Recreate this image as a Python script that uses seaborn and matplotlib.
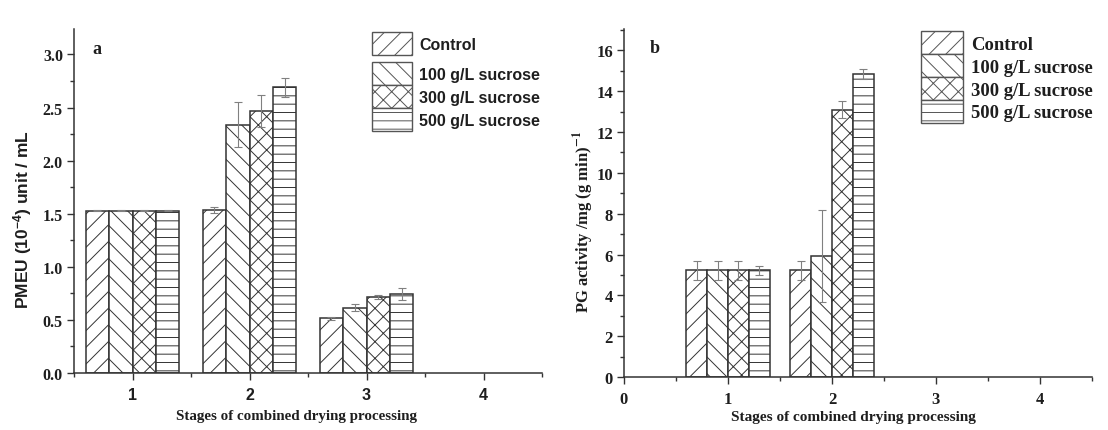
import numpy as np
import pandas as pd
import matplotlib
matplotlib.use("Agg")
import matplotlib.pyplot as plt
import seaborn as sns
from matplotlib.patches import Patch
from matplotlib.ticker import MultipleLocator, FixedLocator
from matplotlib.font_manager import FontProperties

# ---------------- data ----------------
treatments = ["Control", "100 g/L sucrose", "300 g/L sucrose", "500 g/L sucrose"]

stages_a = [1, 2, 3]
pmeu_control = [1.53, 1.535, 0.515]
pmeu_100 = [1.53, 2.34, 0.615]
pmeu_300 = [1.53, 2.47, 0.715]
pmeu_500 = [1.53, 2.69, 0.745]
pmeu_err_control = [0.004, 0.027, 0.015]
pmeu_err_100 = [0.004, 0.21, 0.035]
pmeu_err_300 = [0.004, 0.15, 0.022]
pmeu_err_500 = [0.004, 0.093, 0.06]

stages_b = [1, 2]
pg_control = [5.22, 5.22]
pg_100 = [5.22, 5.93]
pg_300 = [5.22, 13.1]
pg_500 = [5.22, 14.85]
pg_err_control = [0.47, 0.47]
pg_err_100 = [0.47, 2.27]
pg_err_300 = [0.47, 0.40]
pg_err_500 = [0.24, 0.24]

xticks_a = [1, 2, 3, 4]
xticks_b = [0, 1, 2, 3, 4]

# ---------------- style ----------------
sns.set_style("ticks")
plt.rcParams["font.family"] = ["Liberation Serif", "DejaVu Serif"]
plt.rcParams["hatch.linewidth"] = 0.7
plt.rcParams["mathtext.fontset"] = "custom"
plt.rcParams["mathtext.bf"] = "Liberation Sans:bold"
plt.rcParams["mathtext.rm"] = "Liberation Sans:bold"
plt.rcParams["mathtext.it"] = "Liberation Sans:bold"

EDGE = "#333333"
TXT = "#1e1e1e"
hatches = ["//", "\\\\", "xx", "--"]

sans_b = lambda s: FontProperties(family="Liberation Sans", weight="bold", size=s)
serif_b = lambda s: FontProperties(family="Liberation Serif", weight="bold", size=s)

W, H = 1108, 431
fig = plt.figure(figsize=(W / 100, H / 100), dpi=100)
ax1 = fig.add_axes([74 / W, 57 / H, 468 / W, 344 / H])
ax2 = fig.add_axes([624 / W, 53 / H, 468 / W, 348 / H])


def build(stages, vals, errs):
    rows = []
    for t, v, e in zip(treatments, vals, errs):
        for s, vv, ee in zip(stages, v, e):
            rows.append(dict(stage=s, treatment=t, value=vv, err=ee))
    return pd.DataFrame(rows)


def draw(ax, df):
    sns.barplot(data=df, x="stage", y="value", hue="treatment", hue_order=treatments,
                native_scale=True, errorbar=None, palette=["white"] * 4, saturation=1,
                edgecolor=EDGE, linewidth=1.1, legend=False, ax=ax, zorder=2)
    errmap = {(r.treatment, r.stage): r.err for r in df.itertuples()}
    for t, h, cont in zip(treatments, hatches, ax.containers):
        for bar in cont:
            bar.set_hatch(h)
            cx = bar.get_x() + bar.get_width() / 2
            s = int(round(cx))
            ax.errorbar(cx, bar.get_height(), yerr=errmap[(t, s)], fmt="none",
                        ecolor="#808080", elinewidth=0.8, capsize=3, capthick=0.8, zorder=4)


def style_axes(ax):
    for side in ["top", "right"]:
        ax.spines[side].set_visible(False)
    for side in ["left", "bottom"]:
        ax.spines[side].set_linewidth(1.1)
        ax.spines[side].set_color(EDGE)
        ax.spines[side].set_zorder(5)
    ax.tick_params(which="both", direction="out", color=EDGE, width=1.0, labelcolor=TXT)
    ax.tick_params(which="major", length=5)
    ax.tick_params(which="minor", length=2.8)
    ax.tick_params(axis="x", which="major", pad=5)
    ax.tick_params(axis="y", which="major", pad=3)
    ax.set_facecolor("white")


df_a = build(stages_a, [pmeu_control, pmeu_100, pmeu_300, pmeu_500],
             [pmeu_err_control, pmeu_err_100, pmeu_err_300, pmeu_err_500])
df_b = build(stages_b, [pg_control, pg_100, pg_300, pg_500],
             [pg_err_control, pg_err_100, pg_err_300, pg_err_500])

draw(ax1, df_a)
draw(ax2, df_b)

# ---- panel a ----
style_axes(ax1)
ax1.set_xlim(0.5, 4.5)
ax1.xaxis.set_major_locator(FixedLocator(xticks_a))
ax1.xaxis.set_minor_locator(MultipleLocator(0.5))
ax1.yaxis.set_major_locator(MultipleLocator(0.5))
ax1.yaxis.set_minor_locator(MultipleLocator(0.25))
ax1.set_ylim(0, 3.24)
ax1.set_xticklabels([str(v) for v in xticks_a])
yt = [v for v in ax1.get_yticks() if v <= 3.24]
ax1.set_yticks(yt)
ax1.set_yticklabels([f"{v:.1f}" for v in yt])
ax1.set_ylim(0, 3.24)
for lb in ax1.get_xticklabels():
    lb.set_fontproperties(sans_b(11.5))
for lb in ax1.get_yticklabels():
    lb.set_fontproperties(serif_b(11.5))
ax1.set_xlabel("Stages of combined drying processing", fontproperties=serif_b(10.8), color=TXT)
ax1.set_ylabel("PMEU (10$^{\\mathbf{-4}}$) unit / mL", fontproperties=sans_b(12.5), color=TXT)
ax1.xaxis.set_label_coords(0.475, -0.105)
ax1.yaxis.set_label_coords(-0.085, 0.45)
ax1.text(0.04, 0.942, "a", transform=ax1.transAxes, fontproperties=serif_b(13), color=TXT,
         ha="left", va="center")

handles = [Patch(facecolor="white", edgecolor="#555555", hatch=h, label=t, linewidth=1.0)
           for t, h in zip(treatments, hatches)]
leg_kw = dict(frameon=False, borderpad=0, borderaxespad=0, labelspacing=0,
              handlelength=2.5, handleheight=1.85, handletextpad=0.45, loc="upper left",
              bbox_transform=fig.transFigure, prop=sans_b(11.5), labelcolor=TXT)
leg1 = ax1.legend(handles=handles[:1], bbox_to_anchor=(372 / W, 1 - 33 / H), **leg_kw)
ax1.add_artist(leg1)
ax1.legend(handles=handles[1:], bbox_to_anchor=(372 / W, 1 - 63 / H), **leg_kw)

# ---- panel b ----
style_axes(ax2)
ax2.set_xlim(0, 4.5)
ax2.set_ylim(0, 17.05)
ax2.xaxis.set_major_locator(FixedLocator(xticks_b))
ax2.xaxis.set_minor_locator(MultipleLocator(0.5))
ax2.yaxis.set_major_locator(MultipleLocator(2))
ax2.yaxis.set_minor_locator(MultipleLocator(1))
ax2.set_xticklabels([str(v) for v in xticks_b])
for lb in ax2.get_xticklabels():
    lb.set_fontproperties(serif_b(12))
for lb in ax2.get_yticklabels():
    lb.set_fontproperties(serif_b(12))
ax2.set_xlabel("Stages of combined drying processing", fontproperties=serif_b(11), color=TXT)
ylab = ax2.set_ylabel("PG activity /mg (g min)$^{\\mathbf{-1}}$", fontproperties=serif_b(12),
                      color=TXT)
ylab.set_math_fontfamily("stix")
ax2.xaxis.set_label_coords(0.49, -0.095)
ax2.yaxis.set_label_coords(-0.06, 0.45)
ax2.text(0.056, 0.948, "b", transform=ax2.transAxes, fontproperties=serif_b(13), color=TXT,
         ha="left", va="center")
leg_kw2 = dict(leg_kw)
leg_kw2.update(prop=serif_b(13.4), handlelength=2.25, handleheight=1.52, handletextpad=0.42)
ax2.legend(handles=handles, bbox_to_anchor=(921 / W, 1 - 32 / H), **leg_kw2)

fig.savefig("out.png", dpi=100, facecolor="white")
